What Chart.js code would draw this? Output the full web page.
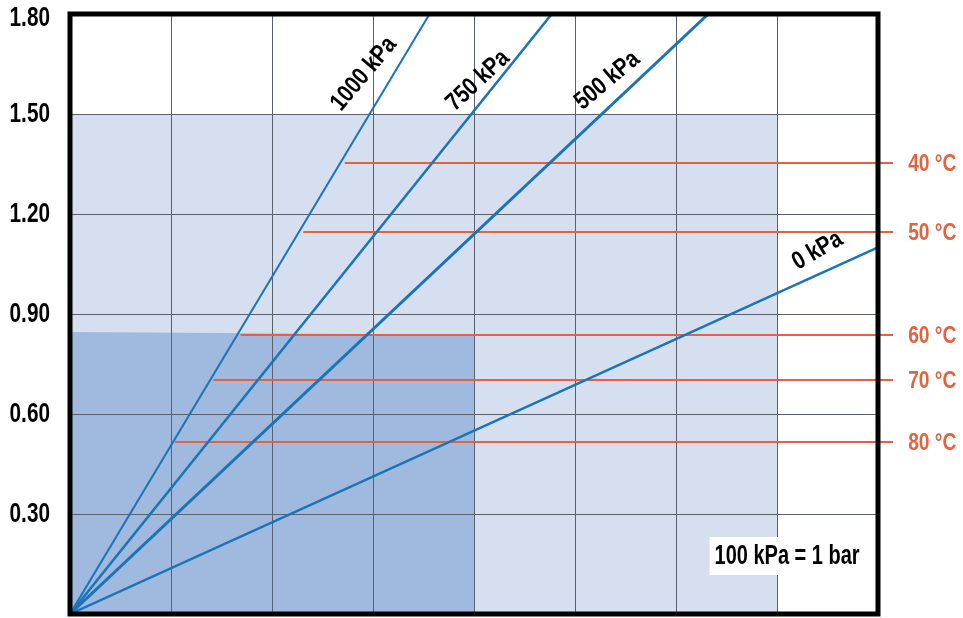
<!DOCTYPE html>
<html>
<head>
<meta charset="utf-8">
<script src="https://cdn.jsdelivr.net/npm/chart.js@4/dist/chart.umd.min.js"></script>
<style>
  html, body { margin: 0; padding: 0; background: #fff; }
  #wrap { width: 963px; height: 618px; }
</style>
</head>
<body>
<div id="wrap"><canvas id="chart" width="963" height="618"></canvas></div>
<script>
// y axis ticks
const yTicks = [0, 0.3, 0.6, 0.9, 1.2, 1.5, 1.8]
const yTickLabels = ['', '0.30', '0.60', '0.90', '1.20', '1.50', '1.80']
const xGrid = [0, 1, 2, 3, 4, 5, 6, 7, 8]

// pressure lines, all start at the origin
const pressureNames = ['1000 kPa', '750 kPa', '500 kPa', '0 kPa']
const pressureEndX = [3.56, 4.77, 6.32, 8.0]
const pressureEndY = [1.80, 1.80, 1.80, 1.10]
const pressureLabelX = [2.91, 4.04, 5.32, 7.40]
const pressureLabelY = [1.62, 1.60, 1.60, 1.09]
const pressureLabelAngle = [-50, -43, -40, -30]

// temperature lines
const tempNames = ['40 °C', '50 °C', '60 °C', '70 °C', '80 °C']
const tempY = [1.353, 1.146, 0.837, 0.702, 0.516]
const tempStartX = [2.72, 2.31, 1.69, 1.42, 1.04]
const tempEndX = [8.15, 8.15, 8.15, 8.15, 8.15]

// shaded zones
const lightZoneX = [0, 7]
const lightZoneY = [1.5, 1.5]
const darkZoneX = [0, 4]
const darkZoneY = [0.846, 0.838]

const noteText = '100 kPa = 1 bar'
const noteX = 7.1
const noteY = 0.174

const FONT = "'Liberation Sans', Arial, sans-serif"
const BLUE = '#1a74b6'
const RED = '#e5623f'
const widths = [2, 2.5, 3, 2.5]

let datasets = []
datasets.push({
    label: 'light', data: lightZoneX.map((x, i) => ({x: x, y: lightZoneY[i]})),
    showLine: true, fill: 'origin', backgroundColor: '#d5dfef', borderWidth: 0,
    pointRadius: 0, order: 20
})
datasets.push({
    label: 'dark', data: darkZoneX.map((x, i) => ({x: x, y: darkZoneY[i]})),
    showLine: true, fill: 'origin', backgroundColor: '#9fb9df', borderWidth: 0,
    pointRadius: 0, order: 19
})
tempNames.forEach((name, i) => {
    datasets.push({
        label: name, data: [{x: tempStartX[i], y: tempY[i]}, {x: tempEndX[i], y: tempY[i]}],
        showLine: true, borderColor: RED, borderWidth: 2, pointRadius: 0,
        clip: false, order: 5
    })
})
pressureNames.forEach((name, i) => {
    datasets.push({
        label: name, data: [{x: 0, y: 0}, {x: pressureEndX[i], y: pressureEndY[i]}],
        showLine: true, borderColor: BLUE, borderWidth: widths[i], pointRadius: 0,
        order: 1
    })
})

// narrow bold text: squeeze the font sideways
function narrowText(ctx, text, x, y, sx, angle) {
    ctx.save()
    ctx.translate(x, y)
    if (angle) ctx.rotate(angle * Math.PI / 180)
    ctx.scale(sx, 1)
    ctx.fillText(text, 0, 0)
    ctx.restore()
}

// grid goes back on top of the shaded zones
const regrid = {
    id: 'regrid',
    afterDatasetDraw(chart, args) {
        if (chart.data.datasets[args.index].label === 'dark') {
            chart.scales.x.drawGrid(chart.chartArea)
            chart.scales.y.drawGrid(chart.chartArea)
        }
    }
}

const labels = {
    id: 'labels',
    afterDatasetsDraw(chart) {
        const ctx = chart.ctx
        const xs = chart.scales.x, ys = chart.scales.y
        const a = chart.chartArea
        ctx.save()
        // frame
        ctx.strokeStyle = '#000'
        ctx.lineWidth = 5
        ctx.strokeRect(a.left, a.top, a.right - a.left, a.bottom - a.top)

        ctx.textBaseline = 'middle'

        // y tick labels, on the y scale's own ticks
        ctx.fillStyle = '#000'
        ctx.font = 'bold 27px ' + FONT
        ctx.textAlign = 'right'
        ys.ticks.forEach((t, i) => {
            let py = Math.max(ys.getPixelForValue(t.value) + 1, a.top + 5)
            narrowText(ctx, yTickLabels[i], a.left - 20, py, 0.77)
        })

        // pressure labels
        ctx.font = 'bold 25px ' + FONT
        ctx.textAlign = 'center'
        pressureNames.forEach((name, i) => {
            narrowText(ctx, name, xs.getPixelForValue(pressureLabelX[i]), ys.getPixelForValue(pressureLabelY[i]),
                0.82, pressureLabelAngle[i])
        })

        // temperature labels
        ctx.fillStyle = RED
        ctx.font = 'bold 24px ' + FONT
        ctx.textAlign = 'left'
        tempNames.forEach((name, i) => {
            narrowText(ctx, name, xs.getPixelForValue(tempEndX[i]) + 15, ys.getPixelForValue(tempY[i]) + 1, 0.8)
        })

        // note box
        ctx.font = 'bold 27px ' + FONT
        ctx.textAlign = 'center'
        const cx = xs.getPixelForValue(noteX), cy = ys.getPixelForValue(noteY)
        const w = ctx.measureText(noteText).width * 0.74 + 10
        ctx.fillStyle = '#fff'
        ctx.fillRect(cx - w / 2, cy - 19, w, 38)
        ctx.fillStyle = '#000'
        narrowText(ctx, noteText, cx, cy + 1, 0.74)
        ctx.restore()
    }
}

new Chart(document.getElementById('chart'), {
    type: 'scatter',
    data: {datasets: datasets},
    options: {
        responsive: false,
        animation: false,
        layout: {padding: {left: 0, top: 14, right: 85, bottom: 4}},
        plugins: {legend: {display: false}, tooltip: {enabled: false}},
        scales: {
            x: {
                type: 'linear', min: 0, max: 8,
                afterBuildTicks: s => { s.ticks = xGrid.map(v => ({value: v})) },
                afterFit: s => { s.height = 0; s.paddingLeft = 0; s.paddingRight = 0 },
                ticks: {display: false},
                grid: {color: '#5a606c', lineWidth: 1, drawTicks: false},
                border: {display: false}
            },
            y: {
                type: 'linear', min: 0, max: 1.8,
                afterBuildTicks: s => { s.ticks = yTicks.map(v => ({value: v})) },
                afterFit: s => { s.width = 70; s.paddingTop = 0; s.paddingBottom = 0 },
                ticks: {display: false},
                grid: {color: '#5a606c', lineWidth: 1, drawTicks: false},
                border: {display: false}
            }
        }
    },
    plugins: [regrid, labels]
})
</script>
</body>
</html>
